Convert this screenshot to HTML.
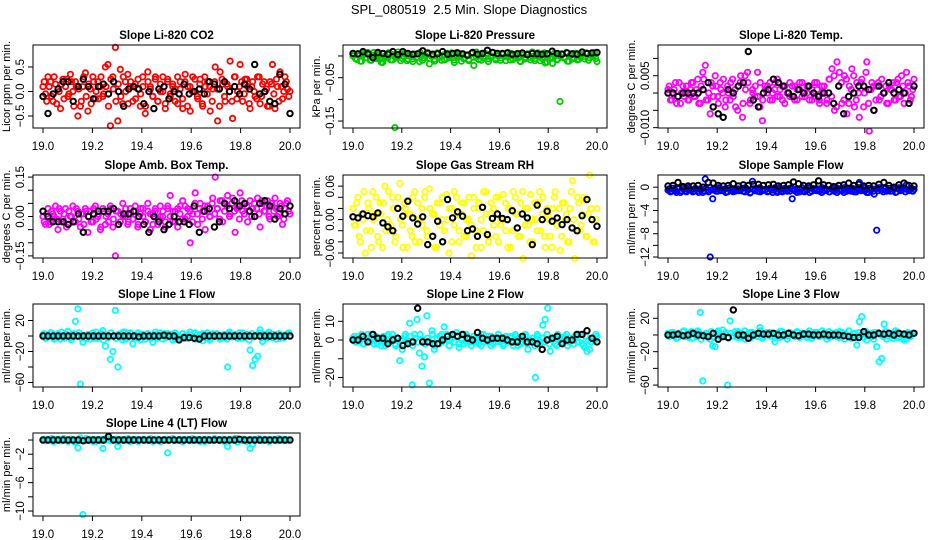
<!DOCTYPE html>
<html><head><meta charset="utf-8"><title>SPL_080519 2.5 Min. Slope Diagnostics</title>
<style>
html,body{margin:0;padding:0;background:#fff;}
svg{display:block;font-family:"Liberation Sans",Arial,sans-serif;}
</style></head>
<body>
<svg id="chart" width="936" height="540" viewBox="0 0 936 540" xmlns="http://www.w3.org/2000/svg">
<rect width="936" height="540" fill="#fff"/>
<text x="469" y="14" text-anchor="middle" font-size="13">SPL_080519&#160; 2.5 Min. Slope Diagnostics</text>
</svg>
<script>
// ---- data ----
const xTicks = [19.0, 19.2, 19.4, 19.6, 19.8, 20.0];
const xTickLabels = ["19.0", "19.2", "19.4", "19.6", "19.8", "20.0"];
const xStart = 19.0, xEnd = 20.0;

const co2Vals = [0.1,-0.05,0.3,0.2,-0.2,0.15,0.05,-0.35,0.25,0.1,-0.1,0.35,0.0,0.2,-0.5,-0.3,0.1,0.38,-0.4,0.05,0.3,-0.15,0.2,0.1,-0.1,0.5,0.55,-0.7,0.3,0.9,-0.6,0.45,-0.25,0.2,0.35,0.1,-0.2,0.15,0.05,-0.3,0.3,-0.45,0.4,0.1,-0.1,0.25,-0.2,0.0,0.3,-0.35,0.2,-0.1,0.15,0.05,-0.25,0.2,-0.35,0.35,0.1,-0.4,0.3,0.0,-0.15,0.25,-0.3,0.1,0.2,-0.4,0.05,0.5,-0.6,0.4,0.15,-0.2,0.1,0.62,-0.55,0.3,0.0,0.55,-0.2,0.25,0.1,-0.35,0.2,-0.1,0.3,-0.25,0.15,0.0,-0.3,0.2,0.55,-0.35,0.1,0.4,-0.15,0.3,0.05,0.0];
const co2Band = [0.2,-0.2,0.1,-0.1,0.3,-0.25,0.0,0.15,-0.15,0.25,-0.05,0.2,-0.3,0.1,0.05,-0.2,0.3,-0.1,0.15,-0.25,0.2,0.0,-0.15,0.3,-0.05,0.1,-0.3,0.25,0.05,-0.2,0.15,-0.1,0.3,0.0,-0.25,0.2,0.1,-0.15,0.25,-0.05,0.1,-0.3,0.2,0.05,-0.1,0.3,-0.2,0.15,0.0,-0.25,0.25,-0.05,0.1,-0.2,0.3,0.05,-0.15,0.2,-0.3,0.1,0.0,0.25,-0.1,0.15,-0.25,0.3,-0.05,0.1,-0.2,0.2,0.05,-0.3,0.25,-0.1,0.15,0.0,-0.2,0.3,-0.15,0.1,0.2,-0.05,0.25,-0.25,0.1,0.0,-0.15,0.3,-0.1,0.2,0.05,-0.3,0.15,-0.05,0.25,-0.2,0.1,0.0,0.2,-0.1];
const co2Black = [-0.1,-0.45,-0.05,0.05,0.2,0.2,-0.2,0.1,0.25,0.1,-0.15,0.1,0.15,-0.05,0.2,0.0,-0.3,0.05,0.1,0.05,-0.25,0.0,-0.35,0.05,0.1,-0.15,0.0,-0.05,0.15,-0.05,0.0,0.05,-0.05,0.2,0.15,0.05,0.2,0.0,0.1,-0.05,0.15,0.05,0.55,-0.05,0.0,-0.2,-0.25,0.35,0.15,-0.45];

const presVals = [0.0,-0.006,0.004,-0.012,0.002,-0.004,0.008,-0.01,0.001,-0.003,0.005,-0.008,-0.015,0.0,-0.005,0.006,-0.009,-0.165,-0.002,0.003,-0.006,0.007,-0.011,0.001,-0.007,0.004,-0.002,-0.013,0.002,-0.005,0.006,-0.018,-0.001,-0.008,0.005,-0.003,-0.01,0.003,-0.006,0.0,0.007,-0.009,-0.002,0.004,-0.012,-0.005,0.002,-0.008,0.006,-0.022,-0.002,0.003,-0.01,-0.001,0.005,-0.007,-0.003,0.008,-0.009,0.0,-0.004,0.004,-0.011,-0.002,0.006,-0.008,0.001,-0.005,-0.013,0.003,-0.003,0.005,-0.009,-0.001,-0.006,0.007,-0.011,-0.002,-0.016,0.002,-0.005,-0.017,0.0,-0.008,-0.105,0.004,-0.003,-0.012,0.001,-0.007,0.006,-0.009,-0.002,0.003,-0.007,0.005,-0.004,0.0,0.008,-0.013];
const presBand = [0.004,-0.008,0.0,-0.012,0.006,-0.004,0.002,-0.01,0.008,-0.006,0.001,-0.014,0.005,-0.002,0.007,-0.009,0.003,-0.005,0.009,-0.011,0.0,0.006,-0.007,0.002,-0.013,0.004,-0.003,0.008,-0.01,0.001,0.005,-0.006,0.003,-0.012,0.007,-0.002,0.0,-0.009,0.006,-0.004,0.002,-0.015,0.008,-0.001,0.004,-0.007,0.001,-0.011,0.006,-0.003,0.009,-0.008,0.002,-0.005,0.005,-0.013,0.0,0.007,-0.006,0.003,-0.01,0.004,-0.002,0.008,-0.009,0.001,-0.004,0.006,-0.012,0.002,-0.007,0.005,-0.003,0.009,-0.011,0.0,0.004,-0.006,0.007,-0.014,0.003,-0.002,0.006,-0.009,0.001,0.005,-0.005,0.008,-0.012,0.002,-0.004,0.006,-0.008,0.003,-0.001,0.007,-0.01,0.004,0.0,-0.006];
const presBlack = [0.006,0.005,0.01,0.005,-0.004,0.008,0.006,0.004,0.01,0.003,0.01,0.006,0.004,0.005,0.012,0.007,0.004,0.005,0.01,0.004,0.006,0.007,0.005,0.002,0.008,0.004,0.006,0.013,0.008,0.006,0.006,0.007,0.004,0.005,0.007,0.003,0.006,0.005,0.004,0.005,0.011,0.006,0.004,0.007,0.005,0.004,0.009,0.006,0.007,0.008];

const tempVals = [0.001,-0.002,0.0,0.003,-0.001,-0.003,0.002,0.0,-0.002,0.001,0.003,-0.001,0.004,-0.003,0.006,0.008,-0.002,-0.006,0.002,0.005,-0.001,0.003,0.0,-0.004,0.002,-0.002,0.004,0.001,-0.005,0.003,-0.007,0.005,0.006,-0.003,0.001,-0.001,0.006,-0.004,-0.008,0.002,0.0,0.003,-0.002,0.001,0.004,-0.001,0.002,-0.003,0.0,0.003,-0.001,0.002,-0.002,0.001,0.003,-0.001,0.0,0.002,-0.002,0.003,0.001,-0.003,0.002,0.0,-0.002,0.004,0.007,-0.005,0.009,0.006,-0.003,0.005,-0.006,0.002,0.007,-0.004,0.003,-0.007,0.004,0.0,0.009,-0.011,0.003,-0.005,0.002,-0.002,0.004,0.0,-0.003,0.002,0.001,-0.002,0.003,-0.001,0.005,-0.003,0.006,0.002,-0.001,0.004];
const tempBand = [0.002,-0.002,0.001,-0.003,0.003,0.0,-0.001,0.002,-0.002,0.003,-0.001,0.001,-0.003,0.002,0.004,-0.002,0.0,0.003,-0.001,0.002,-0.003,0.001,0.004,-0.002,0.0,0.003,-0.001,-0.004,0.002,0.005,-0.003,0.001,0.003,-0.002,0.0,0.002,-0.001,0.003,-0.002,0.001,0.002,-0.002,0.0,0.003,-0.001,0.001,-0.002,0.002,0.0,-0.001,0.002,-0.002,0.001,0.003,-0.001,0.0,0.002,-0.002,0.001,-0.001,0.003,-0.002,0.0,0.002,-0.003,0.004,-0.001,0.005,-0.004,0.002,0.003,-0.002,0.004,-0.003,0.001,0.005,-0.002,0.0,0.003,-0.004,0.006,-0.003,0.001,0.002,-0.002,0.003,-0.001,0.0,0.002,-0.003,0.001,0.003,-0.002,0.004,-0.001,0.002,0.0,0.003,-0.002,0.001];
const tempBlack = [0.0,0.0,-0.001,0.0,0.0,0.0,0.0,0.001,0.003,-0.004,-0.006,-0.007,0.001,0.0,0.002,0.003,0.012,-0.002,-0.004,0.0,0.001,0.004,0.003,0.002,0.0,-0.001,0.001,0.0,0.002,0.0,-0.001,0.0,0.0,-0.003,0.002,-0.006,-0.001,0.0,0.002,0.002,0.001,-0.005,0.002,0.0,0.003,0.0,0.001,0.0,-0.003,0.002];

const ambVals = [0.0,-0.03,0.03,-0.02,0.01,0.04,-0.05,0.02,-0.01,0.03,-0.03,0.0,0.04,-0.02,0.02,-0.04,0.01,0.03,-0.06,0.02,-0.02,0.04,0.0,-0.05,0.03,-0.03,0.01,0.04,-0.04,-0.15,0.02,-0.02,0.05,0.0,-0.03,0.03,-0.01,0.04,-0.04,0.01,0.03,-0.02,0.05,-0.05,0.01,0.02,-0.03,0.04,0.0,-0.04,0.03,0.08,-0.02,0.02,-0.04,0.04,0.06,-0.01,0.03,-0.1,0.01,0.09,-0.03,0.05,0.02,-0.05,0.04,0.0,0.07,0.15,0.03,0.06,-0.02,0.05,0.08,0.01,0.07,-0.06,0.04,0.09,0.02,0.05,-0.02,0.06,0.03,0.0,0.07,-0.04,0.05,0.02,0.06,-0.01,0.04,0.07,0.0,0.05,-0.03,0.03,0.06,0.01];
const ambBand = [-0.02,0.01,-0.03,0.02,0.0,-0.01,0.03,-0.02,0.01,-0.04,0.02,0.0,-0.02,0.03,-0.01,0.01,-0.03,0.02,0.0,-0.02,0.03,-0.01,0.01,-0.04,0.02,0.0,-0.02,0.03,-0.01,0.02,-0.03,0.01,0.0,0.03,-0.02,0.01,-0.01,0.02,-0.03,0.03,0.0,-0.02,0.02,0.01,-0.03,0.03,-0.01,0.0,0.02,-0.02,0.04,0.0,0.02,-0.02,0.03,0.01,-0.01,0.04,0.0,0.02,-0.02,0.05,0.01,0.03,-0.01,0.04,0.02,0.0,0.05,0.01,0.03,-0.01,0.06,0.02,0.04,0.0,0.05,0.02,0.03,-0.01,0.06,0.01,0.04,0.02,0.0,0.05,0.03,0.01,0.06,0.02,0.04,0.0,0.05,0.02,0.03,0.01,0.04,-0.01,0.05,0.02];
const ambBlack = [0.02,0.0,-0.02,-0.02,-0.02,-0.03,-0.02,0.01,-0.06,0.0,0.01,0.02,0.02,0.02,0.03,-0.03,0.01,0.01,0.02,0.0,-0.03,-0.06,0.0,-0.02,-0.05,-0.03,0.0,-0.02,-0.02,-0.03,0.04,-0.06,0.02,0.03,-0.04,-0.02,0.05,0.03,0.06,0.04,0.05,0.02,0.0,0.05,0.06,0.04,-0.01,0.03,0.01,0.04];

const rhVals = [0.02,-0.01,0.04,-0.04,0.0,-0.06,0.03,-0.02,0.05,0.01,-0.03,0.03,-0.05,0.06,0.0,-0.02,0.04,-0.04,0.02,0.065,-0.01,0.03,-0.05,0.01,-0.03,0.05,0.0,-0.04,0.02,0.04,-0.02,0.055,-0.03,0.01,-0.05,0.03,0.0,-0.02,0.045,-0.06,0.02,-0.01,0.04,-0.04,0.01,0.03,-0.03,0.0,-0.065,0.04,-0.02,0.02,-0.05,0.05,0.01,-0.03,0.03,-0.01,0.04,-0.04,0.0,0.045,-0.02,0.02,-0.05,0.05,0.01,-0.03,0.03,-0.07,0.02,-0.01,0.045,-0.04,0.0,0.03,-0.02,0.04,-0.05,0.01,-0.03,0.02,0.05,-0.01,-0.055,0.03,0.0,-0.04,0.02,0.07,-0.07,0.04,-0.02,0.01,0.035,-0.03,0.08,0.0,-0.04,0.02];
const rhBand = [-0.01,0.03,-0.03,0.01,0.05,-0.02,0.02,-0.05,0.0,0.04,-0.04,0.01,0.03,-0.02,0.05,-0.01,0.02,-0.03,0.04,0.0,-0.05,0.02,0.01,-0.02,0.04,-0.04,0.03,0.0,-0.01,0.05,-0.03,0.02,0.01,-0.05,0.03,-0.01,0.04,-0.02,0.0,0.02,-0.04,0.05,0.01,-0.02,0.03,-0.03,0.0,0.04,-0.01,0.02,-0.05,0.03,0.0,-0.02,0.05,-0.04,0.01,0.02,-0.03,0.04,-0.01,0.0,0.03,-0.05,0.02,-0.02,0.04,0.01,-0.03,0.05,-0.01,0.02,-0.04,0.0,0.03,-0.02,0.05,0.01,-0.03,0.02,0.0,-0.05,0.04,-0.01,0.02,-0.03,0.03,0.01,-0.04,0.05,0.0,-0.02,0.03,-0.01,0.04,-0.03,0.01,0.02,-0.04,0.0];
const rhBlack = [0.005,0.003,0.01,0.007,0.005,0.012,-0.006,-0.013,-0.02,0.02,0.006,0.033,0.003,-0.008,0.005,-0.045,-0.03,-0.003,-0.04,0.036,0.003,0.014,0.006,-0.02,-0.017,-0.03,0.022,-0.027,0.002,0.01,0.002,0.0,0.016,-0.015,0.01,0.003,-0.045,0.026,0.0,0.015,-0.003,0.003,-0.009,0.0,-0.015,-0.02,0.007,0.036,0.0,-0.012];

const sampVals = [-0.5,-0.8,-0.2,-0.6,-0.3,-0.9,-0.1,-0.7,-0.4,-0.5,-0.8,-0.2,-0.6,-0.3,-0.9,1.4,-0.5,-12,-2,-0.4,-0.7,-0.2,-0.6,-0.3,-0.8,-0.1,-0.5,-0.7,-0.3,-0.6,-0.2,-0.8,-0.4,-1.0,1.0,-0.3,-0.7,-0.1,-0.6,-0.4,-0.8,-0.2,-0.5,-0.3,-0.9,-0.1,-0.6,-0.4,-0.7,-0.2,-2,-0.5,-0.3,-0.8,-0.1,-0.6,-0.4,-0.9,-0.2,-0.5,-0.3,-0.7,-0.1,-0.6,-0.4,-0.8,-0.2,-0.5,-0.9,-0.3,-0.6,-0.1,-0.7,-0.4,-0.2,-0.8,-0.5,0.8,-0.3,-0.6,-0.9,-0.2,-0.4,-1.2,-7.4,-0.1,-0.5,-0.3,-0.7,-0.2,-0.6,-0.4,-0.8,-0.1,-0.5,-0.3,0.4,-0.6,-0.2,-0.4];
const sampBand = [-0.3,-0.7,-0.5,-0.9,-0.2,-0.6,-0.4,-0.8,-0.1,-0.5,-0.7,-0.3,-0.9,-0.4,-0.6,-0.2,-0.8,-0.5,-0.3,-0.7,-0.1,-0.6,-0.4,-0.9,-0.2,-0.5,-0.8,-0.3,-0.6,-0.4,-0.7,-0.1,-0.5,-0.9,-0.3,-0.6,-0.2,-0.8,-0.4,-0.5,-0.7,-0.3,-0.9,-0.1,-0.6,-0.4,-0.8,-0.2,-0.5,-0.7,-0.3,-0.6,-0.9,-0.4,-0.2,-0.8,-0.5,-0.1,-0.7,-0.3,-0.6,-0.4,-0.9,-0.2,-0.5,-0.8,-0.3,-0.7,-0.1,-0.6,-0.4,-0.9,-0.2,-0.5,-0.7,-0.3,-0.8,-0.4,-0.6,-0.1,-0.5,-0.9,-0.2,-0.7,-0.3,-0.6,-0.4,-0.8,-0.1,-0.5,-0.7,-0.3,-0.9,-0.2,-0.6,-0.4,-0.8,-0.5,-0.3,-0.7];
const sampBlack = [0.2,0.3,0.8,0.1,0.2,0.2,0.3,0.0,0.8,0.7,0.3,0.2,0.3,0.6,0.2,0.4,0.3,0.5,0.5,0.3,0.4,0.5,0.2,0.3,0.4,0.9,0.6,0.3,0.2,0.4,1.1,0.4,0.3,0.1,0.3,0.4,0.7,0.3,0.5,0.2,0.3,0.2,0.5,0.8,0.3,0.0,0.4,0.7,0.3,0.2];

const line1Vals = [2,-3,1,4,-2,0,3,-4,-1,2,6,-2,1,19,35,-62,-8,-2,2,-4,4,-1,-3,1,7,-13,0,-30,-20,33,-40,3,-5,5,-2,4,-10,1,-3,2,0,-4,3,-1,-8,2,-3,4,0,-2,3,-1,2,-4,1,-2,3,0,-3,2,-1,4,-2,1,-6,2,0,-3,3,-1,2,-4,1,-2,-40,3,-1,2,-3,0,4,-2,1,-18,-38,-30,-26,8,-7,2,-1,3,-2,0,2,-3,1,-1,3,0];
const line1Band = [3,-2,0,4,-4,1,-1,5,-3,2,0,-5,3,-1,4,-2,1,-4,2,0,-3,5,-1,3,-5,1,-2,4,0,-3,2,-1,5,-4,1,3,-2,0,4,-5,2,-1,3,-3,0,5,-2,1,-4,3,-1,2,-5,4,0,-2,3,-3,1,5,-1,-4,2,0,3,-2,4,-5,1,-1,3,-3,0,2,-4,5,-1,1,-2,4,-3,0,2,-5,3,-1,1,4,-2,0,-3,5,-1,2,-4,3,0,-2,1,4];
const line1Black = [0,0,0,0,0,0,0,0,0,0,0,0,0,0,0,0,0,0,0,-1,0,0,0,0,1,0,0,-5,-2,-2,-3,-4,0,0,0,0,0,0,0,0,0,0,0,0,0,0,0,0,0,0];

const line2Vals = [1,-1,2,0,-2,1,3,-1,0,2,-2,1,0,-3,2,-1,3,-2,1,-11,-5,2,0,9,-24,3,11,-7,-14,-9,13,-23,5,-5,1,-2,3,7,0,-3,2,-1,4,-4,1,-2,3,0,-1,2,1,-2,3,-1,0,2,-3,1,-1,3,0,-2,2,-1,1,-3,2,0,-2,1,3,-5,0,-1,-20,2,-2,8,11,17,-6,1,-2,3,0,-1,2,-3,1,0,2,-1,3,-2,-4,-6,-5,1,0,2];
const line2Band = [2,-1,0,3,-2,1,-1,3,-2,1,0,-3,2,-1,3,-1,1,-3,1,0,-2,3,-1,2,-3,1,-1,3,0,-2,1,-1,3,-3,1,2,-1,0,3,-3,1,-1,2,-2,0,3,-1,1,-3,2,-1,1,-3,3,0,-1,2,-2,1,3,-1,-3,1,0,2,-1,3,-3,1,-1,2,-2,0,1,-3,3,-1,1,-1,3,-2,0,1,-3,2,-1,1,3,-1,0,-2,3,-1,1,-3,2,0,-1,1,3];
const line2Black = [0,0,2,-1,3,1,1,-2,0,1,-3,-2,-1,17,-1,-1,-2,-2,0,2,3,2,3,1,0,4,1,0,1,1,1,0,-1,-1,2,-1,-1,-2,-5,0,1,2,-2,0,0,3,3,5,1,-1];

const line3Vals = [2,-1,3,0,-3,1,4,-2,0,3,-4,2,5,27,-55,1,-3,-5,-13,-14,3,-2,6,1,-60,17,-1,4,-3,2,-2,5,0,-4,3,1,-1,9,-2,2,0,3,-1,-8,2,-3,4,0,-1,2,1,-2,3,-1,0,2,-3,1,-1,3,0,-2,5,-1,1,-3,2,0,-2,4,3,-5,0,-1,-2,2,-12,16,22,1,-6,1,-2,3,-14,-32,-28,13,-5,0,2,-1,3,-2,-4,-6,-5,1,0,2];
const line3Band = [-2,3,1,-4,2,0,5,-1,-3,4,1,-2,3,-5,0,2,-1,4,-3,1,5,-2,0,3,-4,2,-1,1,4,-3,0,-5,2,3,-1,1,-2,5,-4,0,3,-1,2,-3,1,4,-2,0,-5,3,1,-1,4,-3,2,0,-2,5,-4,1,3,-1,0,2,-5,4,-2,1,3,-3,0,2,-1,5,-4,1,-2,3,0,-3,4,-1,2,-5,1,3,0,-2,4,-1,2,-4,5,-3,1,0,-1,3,-2,2];
const line3Black = [0,0,1,-1,0,2,0,-1,-2,2,-5,-2,-3,30,0,0,-4,0,2,1,1,2,0,0,2,0,-1,1,1,0,0,1,0,0,0,-1,-2,-3,-3,4,0,0,2,1,2,0,2,1,0,2];

const line4Vals = [0,-0.1,0.1,0,-0.2,0.1,0,-0.1,0.1,0,-0.2,0.1,0,-0.3,-1.1,0.3,-10.5,-0.1,0,0.1,-0.2,0,0.1,-0.1,-1.2,0,0.2,-0.1,0,0.1,-0.9,0,-0.1,0.1,0,-0.2,0.1,0,-0.1,0,0.1,-0.1,0,0.1,-0.2,0,0.1,0,-0.1,0,-1.8,0,0.1,-0.1,0,0.1,-0.2,0,0.1,0,-0.1,0,0.1,-0.2,0,0.1,0,-0.1,0,0.1,0,-0.1,0.1,0,-0.9,0.1,0,0.2,-0.3,0,0.1,-0.1,0,-1.2,-0.6,0,0.1,-0.1,0,0.1,0,-0.1,0.1,0,-0.1,0,0.1,0,-0.1,0];
const line4Band = [0.1,-0.1,0,0.2,-0.2,0,0.1,-0.1,0.2,0,-0.1,0.1,-0.2,0,0.1,-0.1,0,0.2,-0.1,0,0.1,-0.2,0,0.1,-0.1,0.2,0,-0.1,0.1,0,-0.2,0.1,0,-0.1,0.2,0,-0.1,0.1,-0.2,0,0.1,0,-0.1,0.2,0,-0.1,0.1,-0.2,0,0.1,-0.1,0,0.2,-0.1,0,0.1,-0.2,0,0.1,-0.1,0.2,0,-0.1,0.1,0,-0.2,0.1,0,-0.1,0.2,0,-0.1,0.1,-0.2,0,0.1,0,-0.1,0.2,0,-0.1,0.1,-0.2,0,0.1,-0.1,0,0.2,-0.1,0,0.1,-0.2,0,0.1,-0.1,0.2,0,-0.1,0.1,0];
const line4Black = [0,0,0,0,0,0,0,0,-0.1,0,0,0,0,0.5,0,0,0,0,0,0,0,0,0,0,0,0,0,0,0,0,0,0,0,0,0,0,0,0,0,0.1,0,0,0,0,0,0,0,0,0,0];

// ---- layout (not data) ----
const colLeft = [33, 343, 658];
const colWidth = [267, 264, 266];
const rowTop = [45, 175, 304, 433];
const boxH = 83;
const SVGNS = "http://www.w3.org/2000/svg";
const svg = document.getElementById("chart");

const panels = [
 {key:"co2", title:"Slope Li-820 CO2", ylab:"Licor ppm per min.", vals:co2Vals, band:co2Band, blk:co2Black, color:"#ff0000", lo:-0.745, hi:0.949, ticks:[0.5,0,-0.5], labels:["0.5","0.0","\u22120.5"], labelAt:[0.5,0,-0.5], col:0, row:0},
 {key:"pressure", title:"Slope Li-820 Pressure", ylab:"kPa per min.", vals:presVals, band:presBand, blk:presBlack, color:"#00cc00", lo:-0.166, hi:0.0253, ticks:[0,-0.05,-0.1,-0.15], labels:["\u22120.05","\u22120.15"], labelAt:[-0.05,-0.15], col:1, row:0},
 {key:"temp", title:"Slope Li-820 Temp.", ylab:"degrees C per min.", vals:tempVals, band:tempBand, blk:tempBlack, color:"#ff00ff", lo:-0.0101, hi:0.01387, ticks:[0.01,0.005,0,-0.005,-0.01], labels:["0.005","\u22120.010"], labelAt:[0.005,-0.01], col:2, row:0},
 {key:"ambtemp", title:"Slope Amb. Box Temp.", ylab:"degrees C per min.", vals:ambVals, band:ambBand, blk:ambBlack, color:"#ff00ff", lo:-0.158, hi:0.158, ticks:[0.15,0.1,0.05,0,-0.05,-0.1,-0.15], labels:["0.15","0.00","\u22120.15"], labelAt:[0.15,0,-0.15], col:0, row:1},
 {key:"rh", title:"Slope Gas Stream RH", ylab:"percent per min.", vals:rhVals, band:rhBand, blk:rhBlack, color:"#ffff00", lo:-0.069, hi:0.08, ticks:[0.06,0.04,0.02,0,-0.02,-0.04,-0.06], labels:["0.06","0.00","\u22120.06"], labelAt:[0.06,0,-0.06], col:1, row:1},
 {key:"sample", title:"Slope Sample Flow", ylab:"ml/min per min.", vals:sampVals, band:sampBand, blk:sampBlack, color:"#0000ff", lo:-12.17, hi:2.09, ticks:[0,-2,-4,-6,-8,-10,-12], labels:["0","\u22124","\u22128","\u221212"], labelAt:[0,-4,-8,-12], col:2, row:1},
 {key:"line1", title:"Slope Line 1 Flow", ylab:"ml/min per min.", vals:line1Vals, band:line1Band, blk:line1Black, color:"#00ffff", lo:-65.8, hi:41.3, ticks:[20,0,-20,-40,-60], labels:["20","\u221220","\u221260"], labelAt:[20,-20,-60], col:0, row:2},
 {key:"line2", title:"Slope Line 2 Flow", ylab:"ml/min per min.", vals:line2Vals, band:line2Band, blk:line2Black, color:"#00ffff", lo:-25.1, hi:19.25, ticks:[10,0,-10,-20], labels:["10","0","\u221220"], labelAt:[10,0,-20], col:1, row:2},
 {key:"line3", title:"Slope Line 3 Flow", ylab:"ml/min per min.", vals:line3Vals, band:line3Band, blk:line3Black, color:"#00ffff", lo:-62.3, hi:37.1, ticks:[20,0,-20,-40,-60], labels:["20","\u221220","\u221260"], labelAt:[20,-20,-60], col:2, row:2},
 {key:"line4", title:"Slope Line 4 (LT) Flow", ylab:"ml/min per min.", vals:line4Vals, band:line4Band, blk:line4Black, color:"#00ffff", lo:-10.7, hi:0.99, ticks:[0,-2,-4,-6,-8,-10], labels:["\u22122","\u22126","\u221210"], labelAt:[-2,-6,-10], col:0, row:3}
];

function mk(tag, attrs, parent){
  const e = document.createElementNS(SVGNS, tag);
  for (const k in attrs) e.setAttribute(k, attrs[k]);
  (parent || svg).appendChild(e);
  return e;
}

panels.forEach(p => {
  const L = colLeft[p.col], W = colWidth[p.col], T = rowTop[p.row], B = T + boxH;
  const xs = v => (L + 10) + (v - xStart) / (xEnd - xStart) * (W - 20);
  const ys = v => B - (v - p.lo) / (p.hi - p.lo) * boxH;
  const idxX = (i, n) => xs(xStart + (xEnd - xStart) * i / (n - 1));
  const midX = (i, n) => xs(xStart + (xEnd - xStart) * (i + 0.5) / n);

  const g = mk("g", {});
  
  

  const title = mk("text", {x: L + W/2, y: T - 6, "text-anchor":"middle", "font-size":"11.5", "font-weight":"bold"}, g);
  
  
  title.textContent = p.title;

  const pts = mk("g", {fill:"none", "stroke-width":"1.8"}, g);
  
  
  p.band.forEach((v, i) => {
    const c = mk("circle", {cx: midX(i, p.band.length).toFixed(1), cy: ys(v).toFixed(1), r: 2.7, stroke: p.color}, pts);
    
    
  });
  p.vals.forEach((v, i) => {
    const c = mk("circle", {cx: idxX(i, p.vals.length).toFixed(1), cy: ys(v).toFixed(1), r: 2.7, stroke: p.color}, pts);
    
    
  });
  p.blk.forEach((v, i) => {
    const c = mk("circle", {cx: idxX(i, p.blk.length).toFixed(1), cy: ys(v).toFixed(1), r: 2.7, stroke: "#000", "stroke-width": "2"}, pts);
    
    
  });

  const box = mk("rect", {x: L, y: T, width: W, height: boxH, fill: "none", stroke: "#000", "stroke-width": "1"}, g);
  
  

  const xa = mk("g", {}, g);
  
  
  xTicks.forEach((t, i) => {
    const x = xs(t);
    mk("line", {x1: x, x2: x, y1: B, y2: B + 5, stroke: "#000"}, xa);
    const tl = mk("text", {x: x, y: B + 22, "text-anchor": "middle", "font-size": "11.5"}, xa);
    
    
    tl.textContent = xTickLabels[i];
  });

  const ya = mk("g", {}, g);
  
  
  p.ticks.forEach(t => {
    const y = ys(t);
    mk("line", {x1: L - 5, x2: L, y1: y, y2: y, stroke: "#000"}, ya);
  });
  p.labelAt.forEach((t, i) => {
    const y = ys(t), x = L - 9;
    const tl = mk("text", {x: x, y: y, "text-anchor": "middle", "font-size": "11.5", transform: "rotate(-90 " + x + " " + y + ")"}, ya);
    
    
    tl.textContent = p.labels[i];
  });
  const yx = L - 23, yy = T + boxH/2;
  const yt = mk("text", {x: yx, y: yy, "text-anchor": "middle", "font-size": "11", transform: "rotate(-90 " + yx + " " + yy + ")"}, g);
  
  
  yt.textContent = p.ylab;
});
</script>
</body></html>
